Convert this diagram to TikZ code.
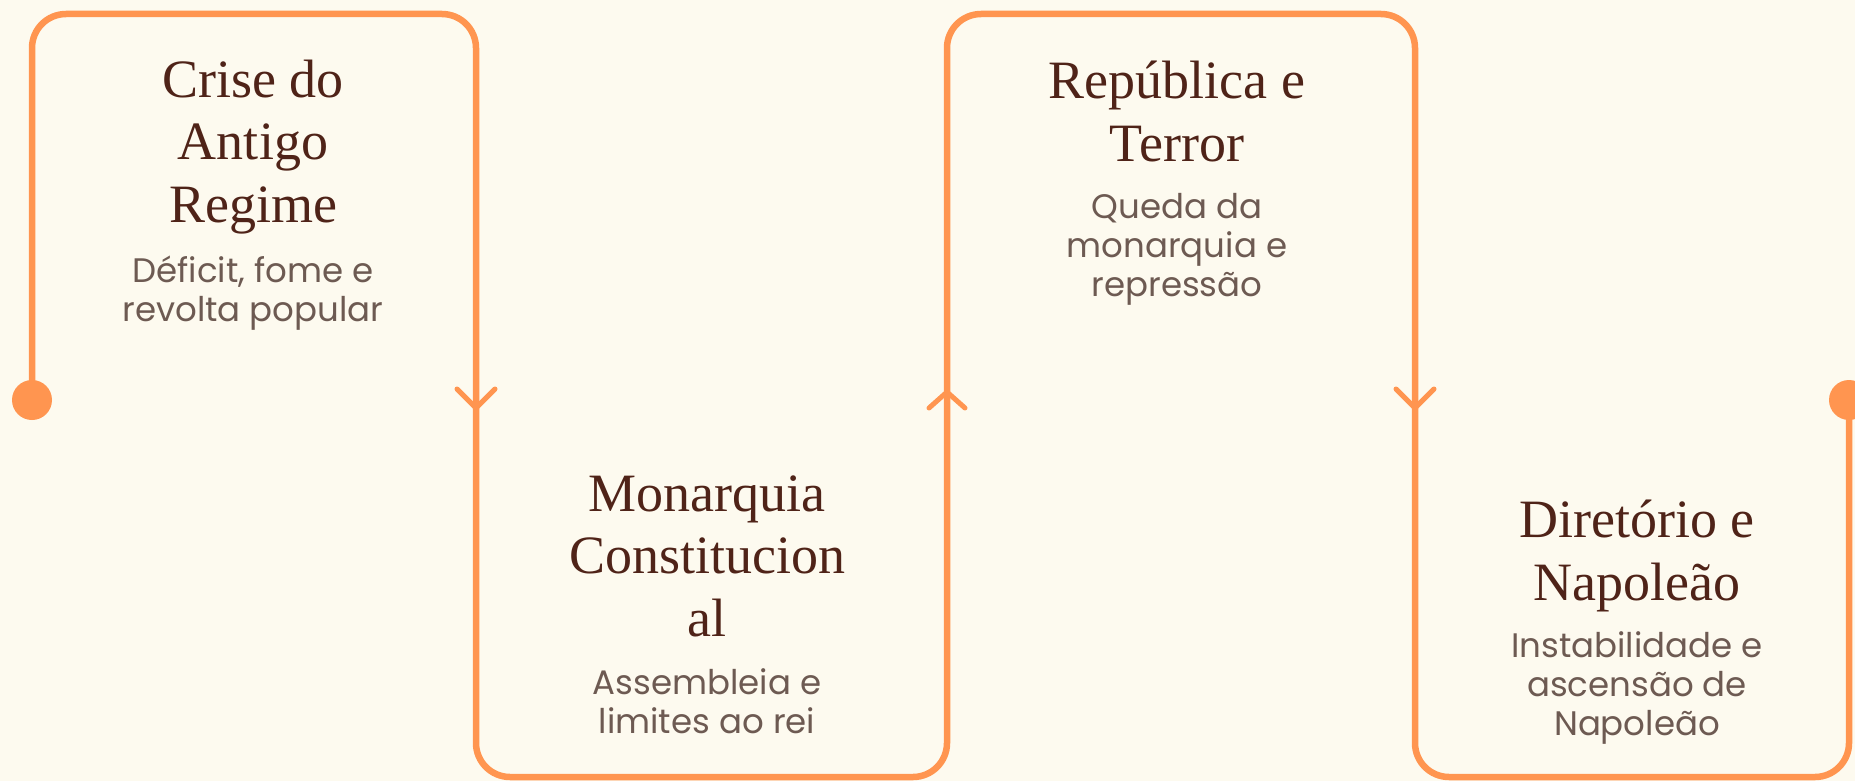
\documentclass[tikz,border=0pt]{standalone}
\usepackage{fontspec}
\setmainfont{Liberation Serif}
\newfontfamily\subfont{Poppins}
\definecolor{bgc}{HTML}{FDFAEF}
\definecolor{linec}{HTML}{FF9550}
\definecolor{titlec}{HTML}{4F2318}
\definecolor{subc}{HTML}{6D5A52}
\begin{document}
\begin{tikzpicture}[x=1pt,y=-1pt,
  flow/.style={draw=linec, line width=6.5pt, rounded corners=34pt, line cap=round, line join=round},
  chev/.style={draw=linec, line width=5pt, line cap=round, line join=round},
  dotn/.style={circle, fill=linec, minimum size=40pt, inner sep=0pt},
  ttl/.style={font=\fontsize{54}{62.5}\selectfont, text=titlec, align=center, anchor=base, inner sep=0pt},
  sub/.style={font=\subfont\fontsize{34}{39}\selectfont, text=subc, align=center, anchor=base, inner sep=0pt}]
\fill[bgc] (0,0) rectangle (1855,781);
\useasboundingbox (0,0) rectangle (1855,781);
\node[dotn] (d1) at (32,400) {};
\node[dotn] (d2) at (1849,400) {};
\coordinate (c1) at (32,14);
\coordinate (c2) at (476,14);
\coordinate (c3) at (476,777);
\coordinate (c4) at (947,777);
\coordinate (c5) at (947,14);
\coordinate (c6) at (1415,14);
\coordinate (c7) at (1415,777);
\coordinate (c8) at (1849,777);
\draw[flow] (d1.center) -- (c1) -- (c2) -- (c3) -- (c4) -- (c5) -- (c6) -- (c7) -- (c8) -- (d2.center);
\coordinate (a1) at (476,408);
\coordinate (a2) at (947,392);
\coordinate (a3) at (1415,408);
\draw[chev] ([shift={(-19,-19)}]a1) -- (a1) -- ([shift={(19,-19)}]a1);
\draw[chev] ([shift={(-18,16)}]a2) -- (a2) -- ([shift={(18,16)}]a2);
\draw[chev] ([shift={(-19,-19)}]a3) -- (a3) -- ([shift={(19,-19)}]a3);
\node[ttl] (t1) at (253,222) {Crise do\\Antigo\\Regime};
\node[sub] (s1) at (253,321) {Déficit, fome e\\revolta popular};
\node[ttl] (t2) at (707,636) {Monarquia\\Constitucion\\al};
\node[sub] (s2) at (707,733) {Assembleia e\\limites ao rei};
\node[ttl] (t3) at (1177,161) {República e\\Terror};
\node[sub] (s3) at (1177,296) {Queda da\\monarquia e\\repressão};
\node[ttl] (t4) at (1637,600) {Diretório e\\Napoleão};
\node[sub] (s4) at (1637,735) {Instabilidade e\\ascensão de\\Napoleão};
\end{tikzpicture}
\end{document}
